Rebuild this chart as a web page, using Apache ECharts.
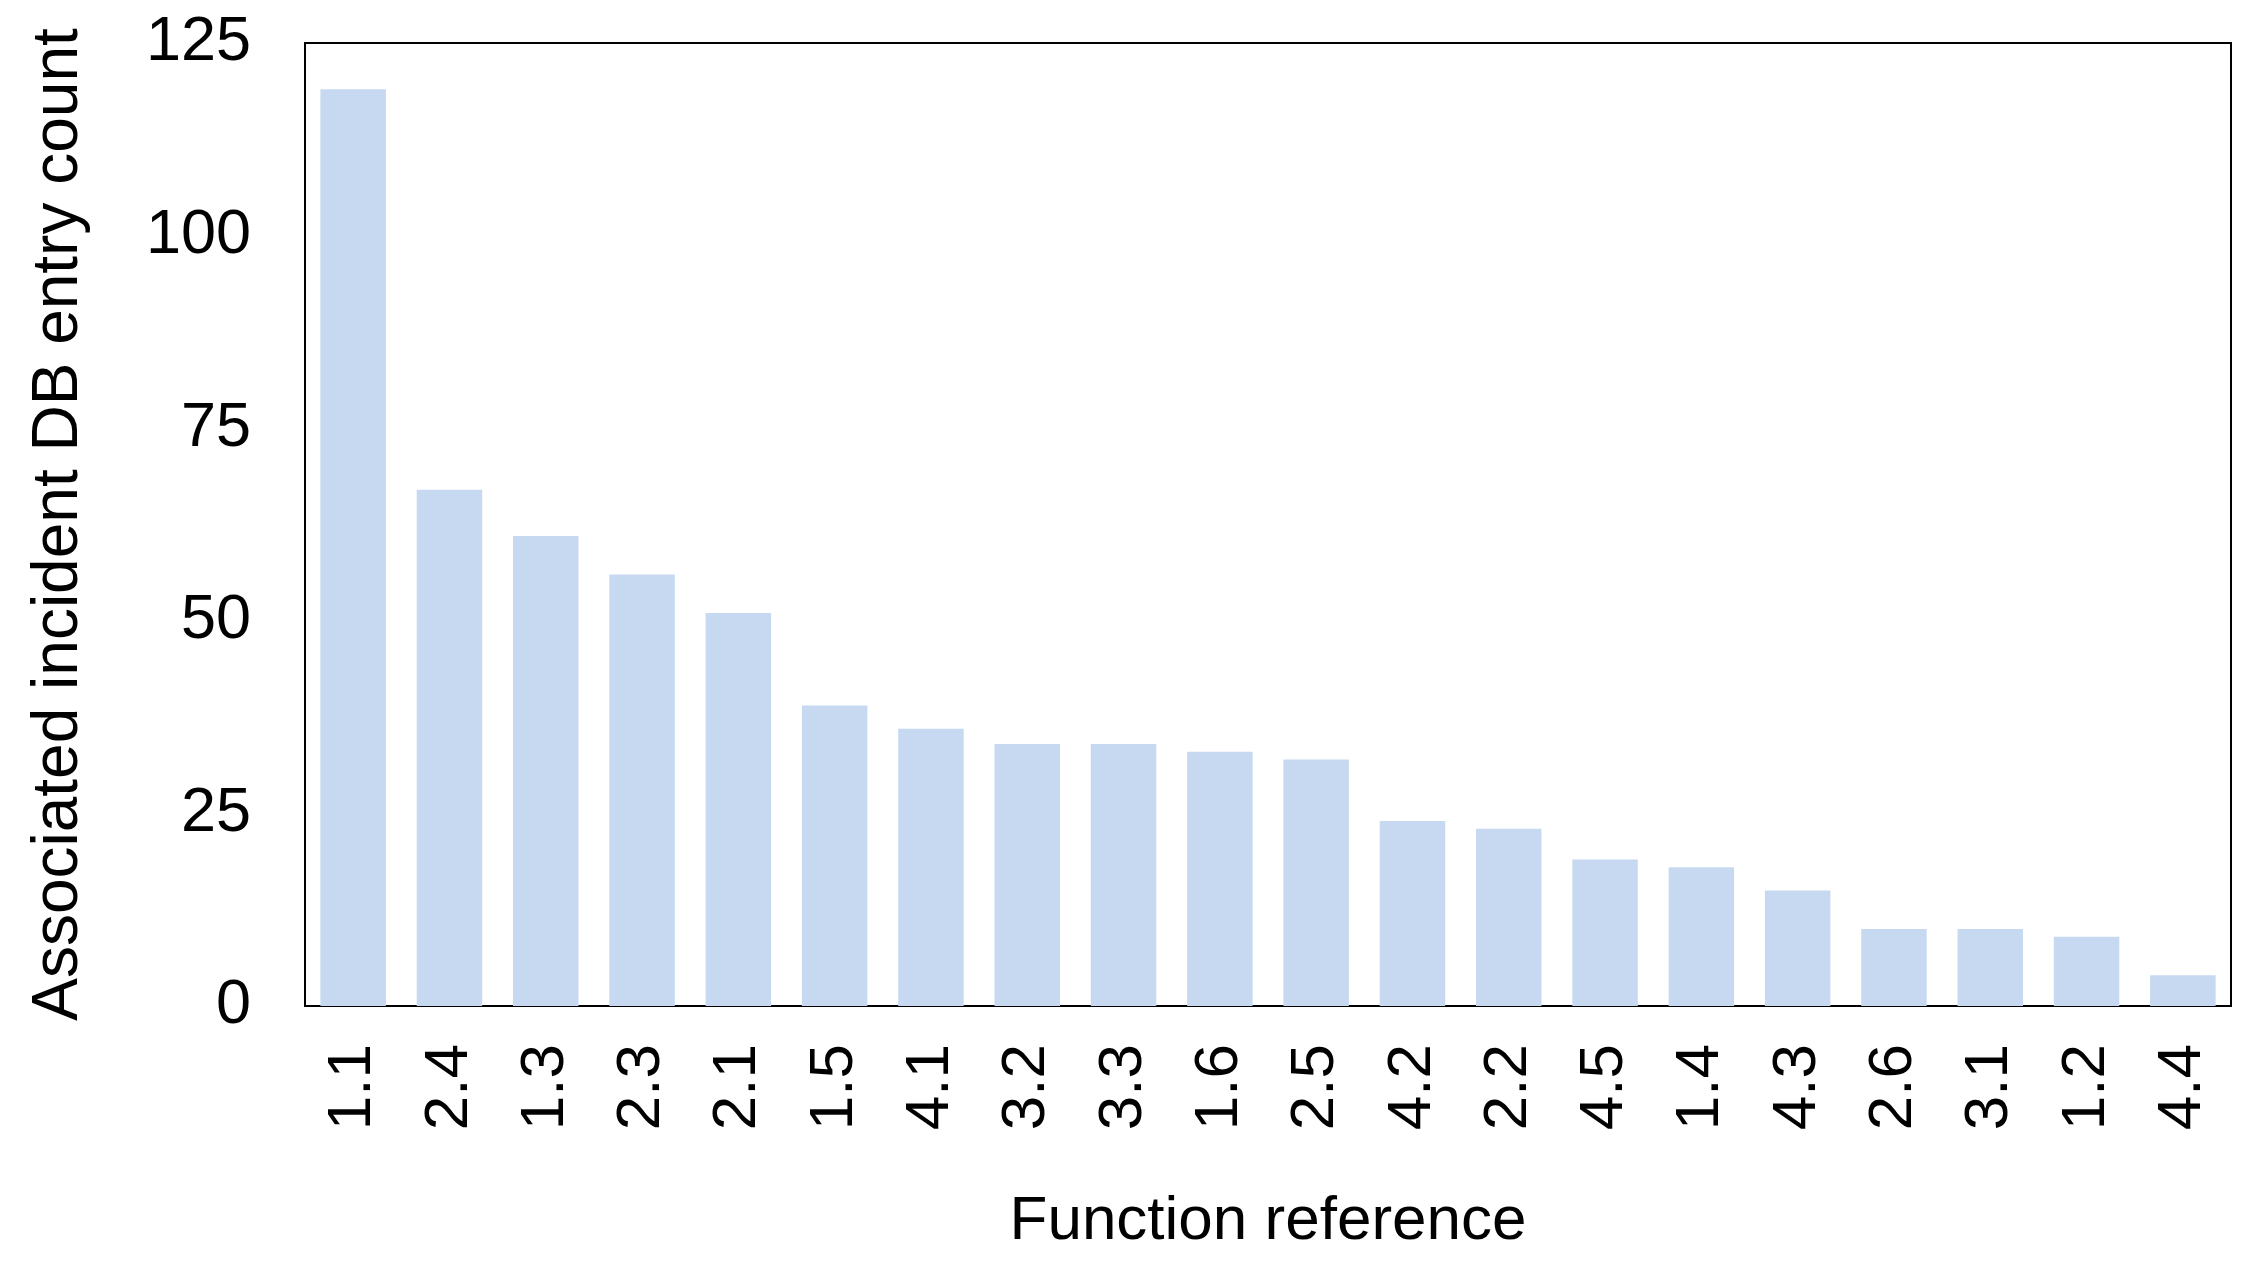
<!DOCTYPE html>
<html><head><meta charset="utf-8">
<script src="https://cdn.jsdelivr.net/npm/echarts@6/dist/echarts.min.js"></script>
<style>html,body{margin:0;background:#fff}#c{width:2258px;height:1271px}</style>
</head><body><div id="c"></div>
<script>
const categories = ["1.1","2.4","1.3","2.3","2.1","1.5","4.1","3.2","3.3","1.6","2.5","4.2","2.2","4.5","1.4","4.3","2.6","3.1","1.2","4.4"];
const counts = [119,67,61,56,51,39,36,34,34,33,32,24,23,19,18,15,10,10,9,4];
const yTicks = [0,25,50,75,100,125];

const chart = echarts.init(document.getElementById("c"));
const font = "Liberation Sans, Arial, sans-serif";
chart.setOption({
  animation: false,
  grid: { left: 305, right: 27, top: 43, bottom: 265, show: true, borderColor: "#000", borderWidth: 2 },
  xAxis: {
    type: "category", data: categories,
    name: "Function reference", nameLocation: "middle", nameGap: 185,
    nameTextStyle: { fontSize: 62, color: "#000", fontFamily: font },
    axisLine: { lineStyle: { color: "#000", width: 2 } },
    axisTick: { show: false },
    axisLabel: { rotate: 90, fontSize: 62, color: "#000", fontFamily: font, margin: 38 }
  },
  yAxis: {
    type: "value", min: yTicks[0], max: yTicks[yTicks.length - 1], interval: 25,
    name: "Associated incident DB entry count", nameLocation: "middle", nameGap: 214,
    nameTextStyle: { fontSize: 64, color: "#000", fontFamily: font },
    axisLine: { show: true, lineStyle: { color: "#000", width: 2 } },
    axisTick: { show: false },
    splitLine: { show: false },
    axisLabel: { fontSize: 63, color: "#000", fontFamily: font, margin: 54 }
  },
  series: [{ type: "bar", data: counts, barCategoryGap: "32%", itemStyle: { color: "#c6d9f1" } }]
});
</script></body></html>
